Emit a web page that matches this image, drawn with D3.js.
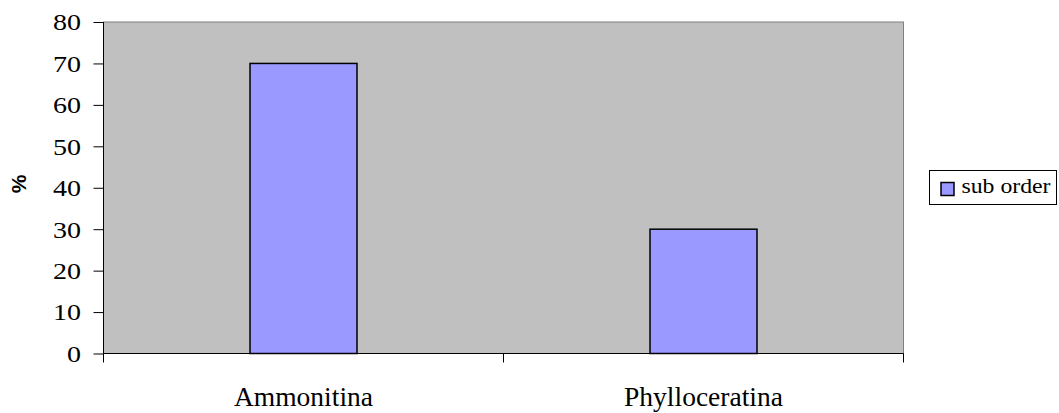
<!DOCTYPE html>
<html>
<head>
<meta charset="utf-8">
<script src="https://cdn.jsdelivr.net/npm/d3@7"></script>
<style>
  body { margin: 0; background: #fff; }
  svg text { font-family: "Liberation Serif", "Times New Roman", serif; fill: #000; }
</style>
</head>
<body>
<div id="chart"></div>
<script>
const categories = ['Ammonitina', 'Phylloceratina'];
const values = [70, 30];
const yTicks = [0, 10, 20, 30, 40, 50, 60, 70, 80];
const seriesName = 'sub order';

const margin = { top: 22, right: 155.5, bottom: 59.5, left: 103.5 },
  width = 1059 - margin.left - margin.right,
  height = 413 - margin.top - margin.bottom;

const x = d3.scaleBand().domain(categories).range([0, width]).padding(0);
const y = d3.scaleLinear().domain([0, 80]).range([height, 0]);
const barW = x.bandwidth() * 0.2675;

const svg = d3
  .select('#chart')
  .append('svg')
  .attr('width', 1059)
  .attr('height', 413);

const g = svg.append('g')
  .attr('transform', 'translate(' + margin.left + ',' + margin.top + ')');

// plot area
g.append('rect')
  .attr('x', 0).attr('y', 0)
  .attr('width', width).attr('height', height)
  .style('fill', '#c0c0c0')
  .style('stroke', '#808080')
  .style('stroke-width', 1);

// bars
g.selectAll('.bar')
  .data(categories)
  .enter()
  .append('rect')
  .attr('class', 'bar')
  .attr('x', (d) => x(d) + (x.bandwidth() - barW) / 2)
  .attr('width', barW)
  .attr('y', (d, i) => y(values[i]))
  .attr('height', (d, i) => height - y(values[i]))
  .style('fill', '#9999ff')
  .style('stroke', '#000')
  .style('stroke-width', 1.5);

// y axis
const yAxis = d3.axisLeft(y).tickValues(yTicks).tickSize(10);
const ya = g.append('g').attr('class', 'y axis').call(yAxis);
ya.select('.domain').attr('d', 'M0,0V' + height).style('stroke', '#000');
ya.selectAll('text')
  .style('font-size', '23px')
  .style('font-family', '"Liberation Serif", serif')
  .attr('x', -22.5 / 1.22)
  .attr('dy', '0.34em')
  .attr('transform', 'scale(1.22,1)');

// x axis: ticks at category boundaries
const xa = g.append('g').attr('transform', 'translate(0,' + height + ')');
xa.append('line').attr('x1', 0).attr('x2', width).attr('y1', 0).attr('y2', 0).style('stroke', '#000');
const bounds = [0].concat(categories.map((d) => x(d) + x.bandwidth()));
xa.selectAll('.tick')
  .data(bounds)
  .enter()
  .append('line')
  .attr('x1', (d) => d).attr('x2', (d) => d)
  .attr('y1', 0).attr('y2', 9)
  .style('stroke', '#000');
xa.selectAll('.cat')
  .data(categories)
  .enter()
  .append('text')
  .attr('x', (d) => x(d) + x.bandwidth() / 2)
  .attr('y', 52.5)
  .style('text-anchor', 'middle')
  .style('font-size', '27.5px')
  .text((d) => d);

// y label
svg.append('text')
  .attr('transform', 'translate(26,184) rotate(-90)')
  .style('text-anchor', 'middle')
  .style('font-family', '"Liberation Sans", Arial, sans-serif')
  .style('font-weight', 'bold')
  .style('font-size', '21px')
  .text('%');

// legend
const lg = svg.append('g').attr('transform', 'translate(929.5,170.5)');
lg.append('rect').attr('width', 127).attr('height', 34)
  .style('fill', '#fff').style('stroke', '#000').style('stroke-width', 1);
lg.append('rect').attr('x', 11.5).attr('y', 12).attr('width', 13).attr('height', 13)
  .style('fill', '#9999ff').style('stroke', '#000').style('stroke-width', 1.5);
lg.append('text')
  .attr('x', 32 / 1.08).attr('y', 23)
  .attr('transform', 'scale(1.08,1)')
  .style('font-size', '22px')
  .text(seriesName);
</script>
</body>
</html>
